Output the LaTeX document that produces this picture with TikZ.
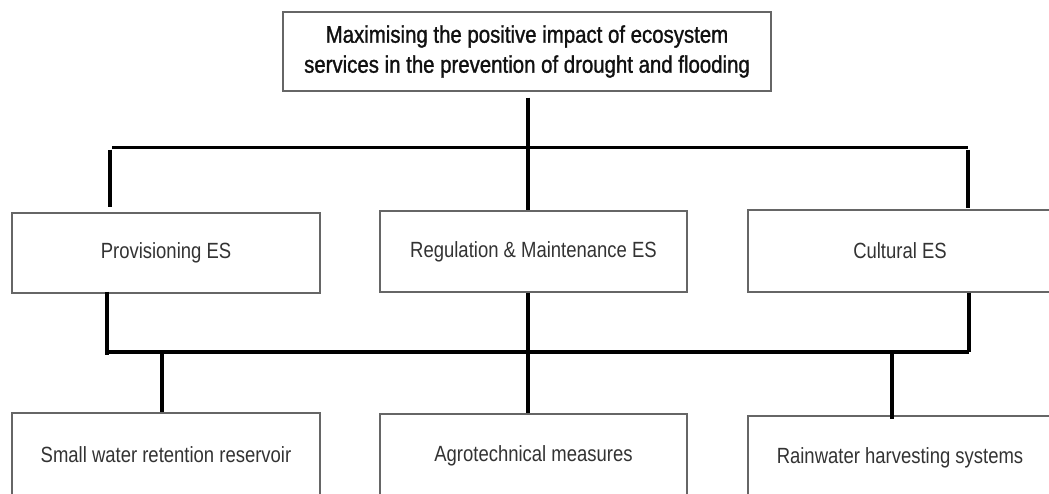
\documentclass[tikz,border=0pt]{standalone}
\usepackage{fontspec}
\newfontfamily\labelfont[FakeStretch=0.84]{Liberation Sans}
\newfontfamily\headfont[FakeStretch=0.85,FakeBold=1.2]{Liberation Sans}
\definecolor{boxline}{HTML}{666666}
\definecolor{labeltext}{HTML}{333333}
\definecolor{headtext}{HTML}{111111}
\tikzset{
  esbox/.style={draw=boxline, line width=1.4pt, fill=white, rectangle, inner sep=0pt,
    font=\labelfont\fontsize{22}{26}\selectfont, text=labeltext, align=center},
  headbox/.style={draw=boxline, line width=1.4pt, fill=white, rectangle, inner sep=0pt,
    font=\headfont\fontsize{24}{30}\selectfont, text=headtext, align=center},
  conn/.style={draw=black, line width=3.3pt}
}
\begin{document}
\begin{tikzpicture}[x=1pt,y=-1pt]
\useasboundingbox (0,0) rectangle (1049,493);
\clip (0,0) rectangle (1049,493);
% nodes
\node[headbox, minimum width=488, minimum height=79] (top) at (527,51.5)
  {Maximising the positive impact of ecosystem\\services in the prevention of drought and flooding};
\node[esbox, minimum width=308, minimum height=80] (prov) at (166,253) {Provisioning ES};
\node[esbox, minimum width=307, minimum height=81] (reg) at (533.5,251.5) {Regulation \& Maintenance ES};
\node[esbox, minimum width=304, minimum height=82] (cult) at (900,251) {Cultural ES};
\node[esbox, minimum width=308, minimum height=84] (res) at (166,455) {Small water retention reservoir};
\node[esbox, minimum width=307, minimum height=84] (agro) at (533.5,456) {Agrotechnical measures};
\node[esbox, minimum width=304, minimum height=84] (rain) at (900,458) {Rainwater harvesting systems};
% junction coordinates
\coordinate (h1) at (528,147.5);
\coordinate (h1l) at (110,147.5);
\coordinate (h1r) at (968,147.5);
\coordinate (h2) at (528,352);
\coordinate (h2l) at (107,352);
\coordinate (h2r) at (969,352);
% upper tree
\draw[conn] ([yshift=-6pt]top.south -| h1) -- (h1);
\draw[conn] ([xshift=2pt]h1l) -- (h1r);
\draw[conn] ([yshift=-2pt]h1l) -- ([yshift=5pt]prov.north -| h1l);
\draw[conn] (h1) -- (reg.north -| h1);
\draw[conn] ([yshift=-2pt]h1r) -- ([yshift=1pt]cult.north -| h1r);
% lower tree
\draw[conn] ([yshift=2pt]prov.south -| h2l) -- ([yshift=-3pt]h2l);
\draw[conn] (reg.south -| h2) -- (h2);
\draw[conn] (cult.south -| h2r) -- (h2r);
\draw[conn] ([xshift=1pt]h2l) -- (h2r);
\draw[conn] (h2 -| res.north) ++(-4,0) coordinate (r1) -- (r1 |- res.north);
\draw[conn] (h2) -- (agro.north -| h2);
\draw[conn] (892,352) coordinate (r3) -- ([yshift=-4pt]r3 |- rain.north);
\end{tikzpicture}
\end{document}
